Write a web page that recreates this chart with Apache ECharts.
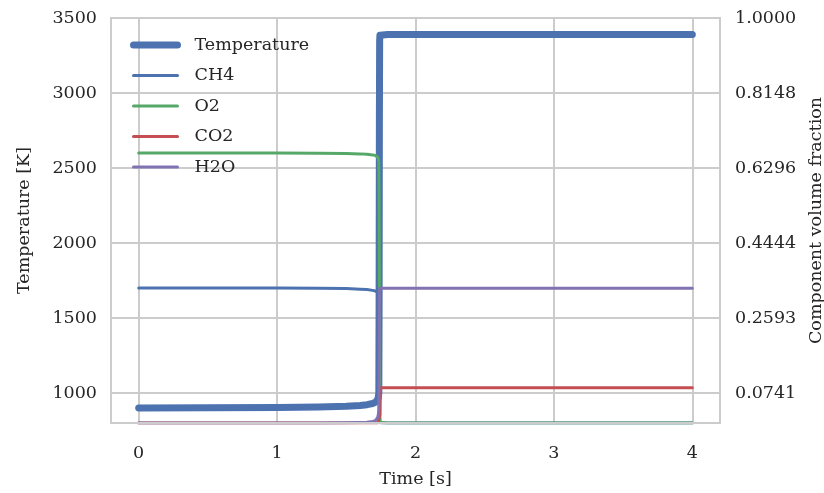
<!DOCTYPE html>
<html>
<head>
<meta charset="utf-8">
<script src="https://cdn.jsdelivr.net/npm/echarts@6/dist/echarts.min.js"></script>
<style>
html,body{margin:0;padding:0;background:#fff;}
#chart{width:824px;height:493px;}
</style>
</head>
<body>
<div id="chart"></div>
<script>
// ---- data ----
const time = [0, 0.5, 1.0, 1.3, 1.5, 1.6, 1.65, 1.69, 1.71, 1.72, 1.727, 1.732, 1.735, 1.737, 1.739, 1.741, 1.743, 1.746, 1.75, 1.8, 2.0, 3.0, 4.0];
const temperature = [900, 901, 903, 906, 911, 917, 922, 930, 938, 946, 958, 975, 1000, 1600, 2800, 3350, 3385, 3389, 3390, 3390, 3390, 3390, 3390];
const ch4 = [0.3333, 0.3333, 0.3332, 0.3330, 0.3318, 0.3305, 0.3295, 0.3275, 0.3260, 0.3245, 0.3220, 0.3180, 0.3100, 0.1500, 0.0300, 0.0050, 0.0010, 0, 0, 0, 0, 0, 0];
const o2 = [0.6667, 0.6667, 0.6666, 0.6663, 0.6655, 0.6645, 0.6635, 0.6620, 0.6605, 0.6590, 0.6560, 0.6510, 0.6440, 0.5500, 0.3800, 0.0800, 0.0100, 0.0020, 0, 0, 0, 0, 0];
const co2 = [0, 0, 0, 0, 0, 0, 0, 0, 0, 0, 0, 0, 0, 0, 0, 0, 0.0200, 0.0800, 0.0870, 0.0870, 0.0870, 0.0870, 0.0870];
const h2o = [0, 0, 0.0001, 0.0003, 0.0008, 0.0015, 0.0020, 0.0040, 0.0060, 0.0090, 0.0140, 0.0220, 0.0350, 0.1500, 0.3000, 0.3330, 0.3330, 0.3330, 0.3330, 0.3330, 0.3330, 0.3330, 0.3330];

const xTicks = [0, 1, 2, 3, 4];
const tempTicks = [1000, 1500, 2000, 2500, 3000, 3500];
const fracTicks = [2/27, 7/27, 12/27, 17/27, 22/27, 1];

const FONT = 'DejaVu Serif';
const FS = 17.5;
const TXT = '#262626';
const GRIDC = '#cccccc';
const colors = { T: '#4C72B0', CH4: '#4C72B0', O2: '#55A868', CO2: '#C44E52', H2O: '#8172B2' };

const pairs = arr => time.map((t, i) => [t, arr[i]]);

const chart = echarts.init(document.getElementById('chart'), null, { renderer: 'canvas' });

function lineSeries(name, arr, color, width, yIdx) {
  return {
    name, type: 'line', yAxisIndex: yIdx, data: pairs(arr),
    symbol: 'none', showSymbol: false, smooth: false,
    lineStyle: { color, width, cap: 'round', join: 'round' },
    itemStyle: { color },
    emphasis: { disabled: true }
  };
}

const legendItem = (name, w) => ({ name, lineStyle: { width: w, cap: 'round' } });

chart.setOption({
  animation: false,
  backgroundColor: '#ffffff',
  textStyle: { fontFamily: FONT, color: TXT },
  grid: { left: 111, right: 104, top: 18, bottom: 70, show: true, borderColor: GRIDC, borderWidth: 2,
          containLabel: false, outerBoundsMode: 'none' },
  legend: {
    orient: 'vertical', left: 130, top: 36, padding: 0,
    itemWidth: 44, itemHeight: 18, itemGap: 12.5,
    textStyle: { fontFamily: FONT, fontSize: FS, color: TXT, padding: [0, 0, 0, 12] },
    itemStyle: { color: 'rgba(0,0,0,0)', borderWidth: 0, opacity: 0 },
    lineStyle: { cap: 'round' },
    data: [
      legendItem('Temperature', 7),
      legendItem('CH4', 3),
      legendItem('O2', 3),
      legendItem('CO2', 3),
      legendItem('H2O', 3)
    ]
  },
  xAxis: [
    {
      type: 'value', min: -0.2, max: 4.2,
      name: 'Time [s]', nameLocation: 'middle', nameGap: 47,
      nameTextStyle: { fontFamily: FONT, fontSize: FS, color: TXT },
      axisLine: { show: false }, axisTick: { show: false, customValues: xTicks },
      axisLabel: { customValues: xTicks, margin: 21, fontFamily: FONT, fontSize: FS, color: TXT,
        formatter: v => String(v) },
      splitLine: { show: true, lineStyle: { color: GRIDC, width: 2 } }
    },
    {
      // overlay of the bottom spine, drawn above the lines like matplotlib spines
      type: 'value', min: -0.2, max: 4.2, position: 'bottom', z: 10,
      axisLine: { show: true, onZero: false, lineStyle: { color: GRIDC, width: 2 } },
      axisTick: { show: false }, axisLabel: { show: false }, splitLine: { show: false }
    }
  ],
  yAxis: [
    {
      type: 'value', min: 800, max: 3500, position: 'left',
      name: 'Temperature [K]', nameLocation: 'middle', nameGap: 78,
      nameTextStyle: { fontFamily: FONT, fontSize: FS, color: TXT },
      axisLine: { show: false }, axisTick: { show: false, customValues: tempTicks },
      axisLabel: { customValues: tempTicks, margin: 14, fontFamily: FONT, fontSize: FS, color: TXT,
        formatter: v => String(v) },
      splitLine: { show: true, lineStyle: { color: GRIDC, width: 2 } }
    },
    {
      type: 'value', min: 0, max: 1, position: 'right',
      name: 'Component volume fraction', nameLocation: 'middle', nameGap: 77,
      nameTextStyle: { fontFamily: FONT, fontSize: FS, color: TXT },
      axisLine: { show: false }, axisTick: { show: false, customValues: fracTicks },
      axisLabel: { customValues: fracTicks, margin: 15, fontFamily: FONT, fontSize: FS, color: TXT,
        formatter: v => v.toFixed(4) },
      splitLine: { show: false }
    }
  ],
  series: [
    lineSeries('Temperature', temperature, colors.T, 7, 0),
    lineSeries('CH4', ch4, colors.CH4, 3, 1),
    lineSeries('O2', o2, colors.O2, 3, 1),
    lineSeries('CO2', co2, colors.CO2, 3, 1),
    lineSeries('H2O', h2o, colors.H2O, 3, 1)
  ]
});
</script>
</body>
</html>
